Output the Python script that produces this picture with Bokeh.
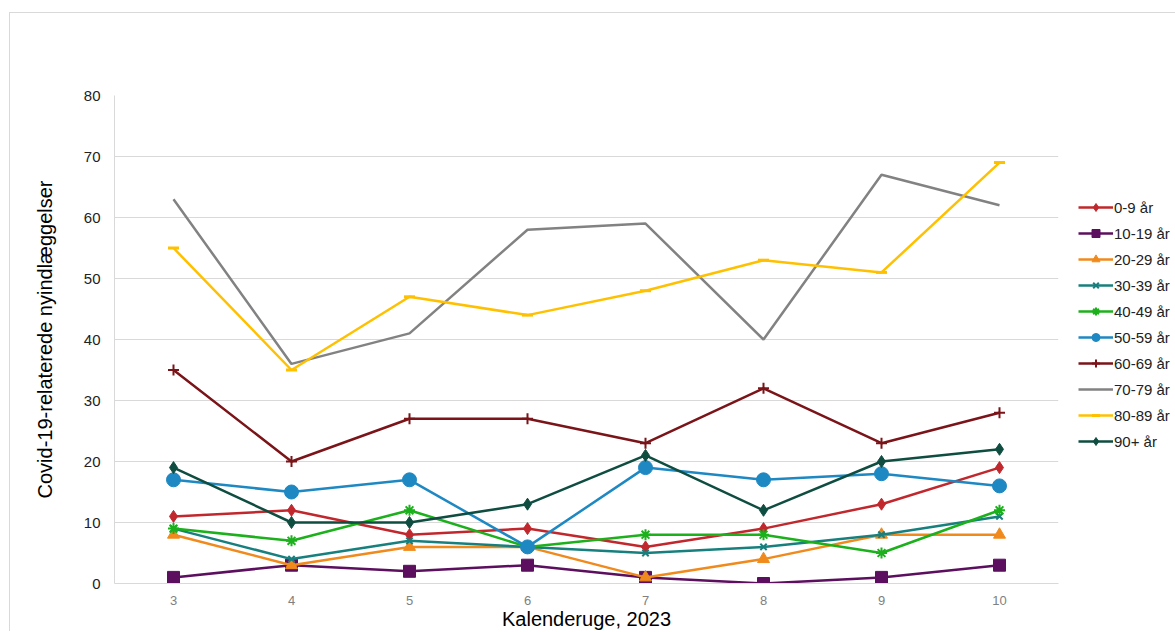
from bokeh.plotting import figure
from bokeh.models import Legend, LegendItem, FixedTicker, Range1d
from bokeh.embed import file_html
from bokeh.resources import INLINE

weeks = [3, 4, 5, 6, 7, 8, 9, 10]
week_labels = ["3", "4", "5", "6", "7", "8", "9", "10"]
y_ticks = [0, 10, 20, 30, 40, 50, 60, 70, 80]

g0_9 = [11, 12, 8, 9, 6, 9, 13, 19]
g10_19 = [1, 3, 2, 3, 1, 0, 1, 3]
g20_29 = [8, 3, 6, 6, 1, 4, 8, 8]
g30_39 = [9, 4, 7, 6, 5, 6, 8, 11]
g40_49 = [9, 7, 12, 6, 8, 8, 5, 12]
g50_59 = [17, 15, 17, 6, 19, 17, 18, 16]
g60_69 = [35, 20, 27, 27, 23, 32, 23, 28]
g70_79 = [63, 36, 41, 58, 59, 40, 67, 62]
g80_89 = [55, 35, 47, 44, 48, 53, 51, 69]
g90 = [19, 10, 10, 13, 21, 12, 20, 22]

series_names = ["0-9 år", "10-19 år", "20-29 år", "30-39 år", "40-49 år",
                "50-59 år", "60-69 år", "70-79 år", "80-89 år", "90+ år"]
series_values = [g0_9, g10_19, g20_29, g30_39, g40_49, g50_59, g60_69, g70_79, g80_89, g90]
colors = ["#C0282D", "#5B0F5E", "#F08A1C", "#17807E", "#1DB01D",
          "#1E88C2", "#7A1418", "#828282", "#FFC000", "#0E4D40"]
markers = ["diamond", "square", "triangle", "x", "asterisk",
           "circle", "cross", None, "dash", "diamond"]
sizes = [12, 12, 12, 9, 11, 14, 11, 0, 11, 12]

FONT = "Liberation Sans"

p = figure(frame_width=944, height=619, output_backend="svg", toolbar_location=None,
           x_range=Range1d(2.5, 10.5), y_range=Range1d(0, 80),
           min_border_left=104, min_border_right=0, min_border_top=82,
           min_border_bottom=47,
           styles={"margin-left": "9px", "margin-top": "12px",
                   "border-left": "1px solid #D9D9D9",
                   "border-top": "1px solid #D9D9D9"})
p.outline_line_color = None
p.background_fill_color = "white"
p.border_fill_color = "white"

p.xgrid.grid_line_color = None
p.ygrid.grid_line_color = "#D9D9D9"
p.ygrid.grid_line_width = 1

p.yaxis.ticker = FixedTicker(ticks=y_ticks)
p.xaxis.ticker = FixedTicker(ticks=weeks)
p.xaxis.major_label_overrides = {w: l for w, l in zip(weeks, week_labels)}

for ax in (p.xaxis[0], p.yaxis[0]):
    ax.major_tick_line_color = None
    ax.minor_tick_line_color = None
    ax.axis_line_color = "#D9D9D9"
    ax.axis_line_width = 1
    ax.major_label_text_font = FONT
    ax.axis_label_text_font = FONT
    ax.axis_label_text_font_style = "normal"
    ax.axis_label_text_color = "#000000"
    ax.axis_label_text_font_size = "20px"

p.yaxis.major_label_text_font_size = "15px"
p.yaxis.major_label_text_color = "#222222"
p.yaxis.major_label_standoff = 8
p.yaxis.axis_label = "Covid-19-relaterede nyindlæggelser"
p.yaxis.axis_label_standoff = 25

p.xaxis.major_label_text_font_size = "13px"
p.xaxis.major_label_text_color = "#808080"
p.xaxis.major_label_standoff = 6
p.xaxis.axis_label = "Kalenderuge, 2023"
p.xaxis.axis_label_standoff = 0

items = []
for name, vals, col, mk, sz in zip(series_names, series_values, colors, markers, sizes):
    rs = [p.line(weeks, vals, line_color=col, line_width=2.5)]
    if mk is not None:
        lw = 2 if mk in ("x", "asterisk", "cross") else 1
        if mk == "dash":
            lw = 3
        rs.append(p.scatter(weeks, vals, marker=mk, size=sz, fill_color=col,
                            line_color=col, line_width=lw))
    items.append(LegendItem(label=name, renderers=rs))

legend = Legend(items=items, location="top_left", orientation="vertical",
                title=" ", title_text_font_size="14px", title_standoff=66,
                label_text_font=FONT, label_text_font_size="15px",
                label_text_color="#222222", glyph_width=35, glyph_height=20,
                spacing=6, label_standoff=1, padding=0, margin=20,
                border_line_color=None, background_fill_alpha=0)
p.add_layout(legend, "right")

open("out.html", "w").write(file_html(p, INLINE))
